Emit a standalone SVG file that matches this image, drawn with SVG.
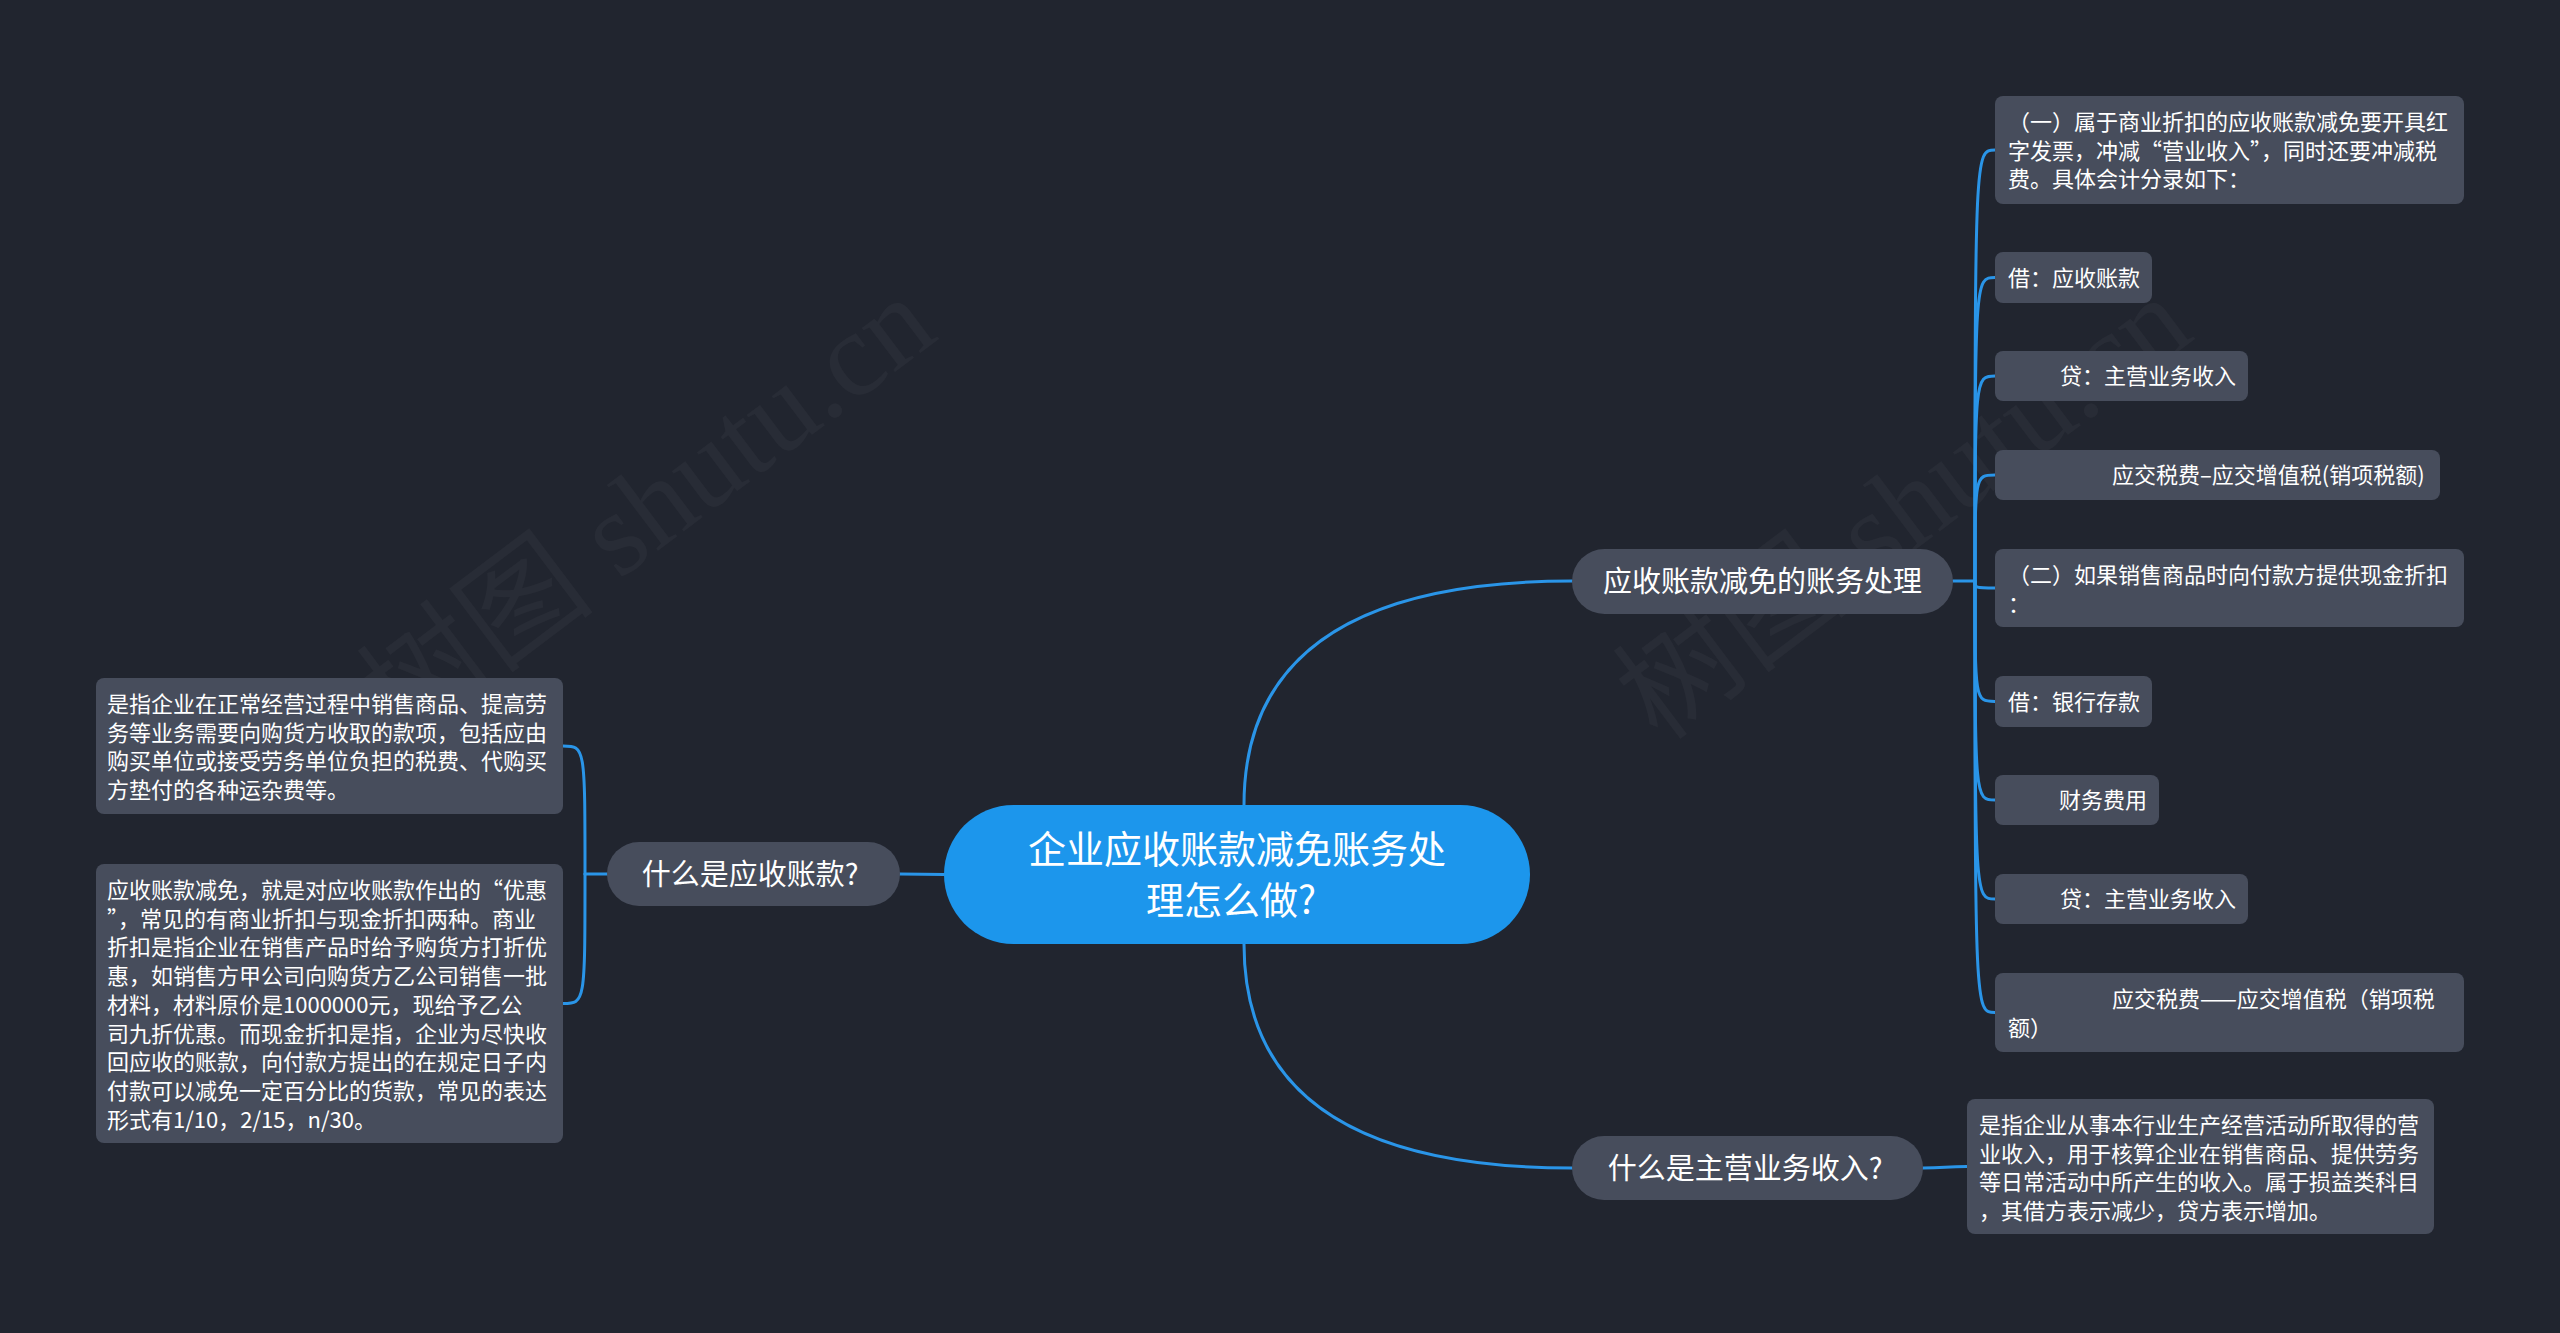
<svg xmlns="http://www.w3.org/2000/svg" width="2560" height="1333" viewBox="0 0 2560 1333">
<style>
.bg{fill:#21252f}
.wm{fill:#ffffff;fill-opacity:0.035;font-family:"Liberation Serif","Noto Sans CJK SC",serif;font-size:120px}
.center{fill:#1c96ec}
.node{fill:#474d5c}
.t{fill:#ffffff;font-family:"Noto Sans CJK SC","Noto Sans",sans-serif}
.tc{font-size:38px;text-anchor:middle}
.tm{font-size:29px;text-anchor:middle}
.tl{font-size:22px}
.conn{fill:none;stroke:#2a95e8;stroke-width:3;stroke-linecap:round}
</style>
<rect class="bg" x="0" y="0" width="2560" height="1333"/>
<g id="watermarks">
<text class="wm" x="649" y="548" text-anchor="middle" transform="rotate(-37 649 510)">树图 shutu.cn</text>
<text class="wm" x="1905" y="548" text-anchor="middle" transform="rotate(-37 1905 510)">树图 shutu.cn</text>
</g>
<g id="connectors">
<path class="conn" d="M1244 805 Q1244 581 1572 581"/>
<path class="conn" d="M1244 944 Q1244 1168 1572 1168"/>
<path class="conn" d="M944 874.5 L900 874"/>
<path class="conn" d="M1953 581 L1975 581"/>
<path class="conn" d="M1975 581 C1975 150 1975 150 1995 150"/>
<path class="conn" d="M1975 581 C1975 277.5 1975 277.5 1995 277.5"/>
<path class="conn" d="M1975 581 C1975 376 1975 376 1995 376"/>
<path class="conn" d="M1975 581 C1975 475 1975 475 1995 475"/>
<path class="conn" d="M1975 581 C1975 588 1975 588 1995 588"/>
<path class="conn" d="M1975 581 C1975 701.5 1975 701.5 1995 701.5"/>
<path class="conn" d="M1975 581 C1975 800 1975 800 1995 800"/>
<path class="conn" d="M1975 581 C1975 899 1975 899 1995 899"/>
<path class="conn" d="M1975 581 C1975 1012.5 1975 1012.5 1995 1012.5"/>
<path class="conn" d="M1923 1168 C1945 1168 1945 1166.5 1967 1166.5"/>
<path class="conn" d="M607 874 L585 874"/>
<path class="conn" d="M585 874 C585 746 585 746 563 746"/>
<path class="conn" d="M585 874 C585 1003.5 585 1003.5 563 1003.5"/>
</g>
<g id="root">
<rect class="center" x="944" y="805" width="586" height="139" rx="69.5"/>
<text class="t tc" x="1237" y="863">企业应收账款减免账务处</text>
<text class="t tc" x="1231" y="914">理怎么做?</text>
</g>
<g id="n-accounting">
<rect class="node" x="1572" y="549" width="381" height="65" rx="32.5"/>
<text class="t tm" x="1762.5" y="592">应收账款减免的账务处理</text>
</g>
<g id="n-revenue">
<rect class="node" x="1572" y="1136" width="351" height="64" rx="32"/>
<text class="t tm" x="1745" y="1179">什么是主营业务收入?</text>
</g>
<g id="n-receivable">
<rect class="node" x="607" y="842" width="293" height="64" rx="32"/>
<text class="t tm" x="750" y="885">什么是应收账款?</text>
</g>
<g id="leaf-r1">
<rect class="node" x="1995" y="96" width="469" height="108" rx="8"/>
<text class="t tl" x="2008" y="130">（一）属于商业折扣的应收账款减免要开具红</text>
<text class="t tl" x="2008" y="158.7">字发票，冲减“营业收入”，同时还要冲减税</text>
<text class="t tl" x="2008" y="187.4">费。具体会计分录如下：</text>
</g>
<g id="leaf-r2">
<rect class="node" x="1995" y="252" width="157" height="51" rx="8"/>
<text class="t tl" x="2008" y="286">借：应收账款</text>
</g>
<g id="leaf-r3">
<rect class="node" x="1995" y="351" width="253" height="50" rx="8"/>
<text class="t tl" x="2060" y="384.4">贷：主营业务收入</text>
</g>
<g id="leaf-r4">
<rect class="node" x="1995" y="450" width="445" height="50" rx="8"/>
<text class="t tl" x="2112" y="483.4">应交税费–应交增值税(销项税额)</text>
</g>
<g id="leaf-r5">
<rect class="node" x="1995" y="549" width="469" height="78" rx="8"/>
<text class="t tl" x="2008" y="583">（二）如果销售商品时向付款方提供现金折扣</text>
<text class="t tl" x="2008" y="611.7">：</text>
</g>
<g id="leaf-r6">
<rect class="node" x="1995" y="676" width="157" height="51" rx="8"/>
<text class="t tl" x="2008" y="710">借：银行存款</text>
</g>
<g id="leaf-r7">
<rect class="node" x="1995" y="775" width="164" height="50" rx="8"/>
<text class="t tl" x="2059" y="808.4">财务费用</text>
</g>
<g id="leaf-r8">
<rect class="node" x="1995" y="874" width="253" height="50" rx="8"/>
<text class="t tl" x="2060" y="907.4">贷：主营业务收入</text>
</g>
<g id="leaf-r9">
<rect class="node" x="1995" y="973" width="469" height="79" rx="8"/>
<text class="t tl" x="2112" y="1007">应交税费——应交增值税（销项税</text>
<text class="t tl" x="2008" y="1035.7">额）</text>
</g>
<g id="leaf-rev">
<rect class="node" x="1967" y="1099" width="467" height="135" rx="8"/>
<text class="t tl" x="1979" y="1133">是指企业从事本行业生产经营活动所取得的营</text>
<text class="t tl" x="1979" y="1161.7">业收入，用于核算企业在销售商品、提供劳务</text>
<text class="t tl" x="1979" y="1190.4">等日常活动中所产生的收入。属于损益类科目</text>
<text class="t tl" x="1979" y="1219.1">，其借方表示减少，贷方表示增加。</text>
</g>
<g id="leaf-l1">
<rect class="node" x="96" y="678" width="467" height="136" rx="8"/>
<text class="t tl" x="107" y="712">是指企业在正常经营过程中销售商品、提高劳</text>
<text class="t tl" x="107" y="740.7">务等业务需要向购货方收取的款项，包括应由</text>
<text class="t tl" x="107" y="769.4">购买单位或接受劳务单位负担的税费、代购买</text>
<text class="t tl" x="107" y="798.1">方垫付的各种运杂费等。</text>
</g>
<g id="leaf-l2">
<rect class="node" x="96" y="864" width="467" height="279" rx="8"/>
<text class="t tl" x="107" y="898">应收账款减免，就是对应收账款作出的“优惠</text>
<text class="t tl" x="107" y="926.7">”，常见的有商业折扣与现金折扣两种。商业</text>
<text class="t tl" x="107" y="955.4">折扣是指企业在销售产品时给予购货方打折优</text>
<text class="t tl" x="107" y="984.1">惠，如销售方甲公司向购货方乙公司销售一批</text>
<text class="t tl" x="107" y="1012.8">材料，材料原价是1000000元，现给予乙公</text>
<text class="t tl" x="107" y="1041.5">司九折优惠。而现金折扣是指，企业为尽快收</text>
<text class="t tl" x="107" y="1070.2">回应收的账款，向付款方提出的在规定日子内</text>
<text class="t tl" x="107" y="1098.9">付款可以减免一定百分比的货款，常见的表达</text>
<text class="t tl" x="107" y="1127.6">形式有1/10，2/15，n/30。</text>
</g>
</svg>
